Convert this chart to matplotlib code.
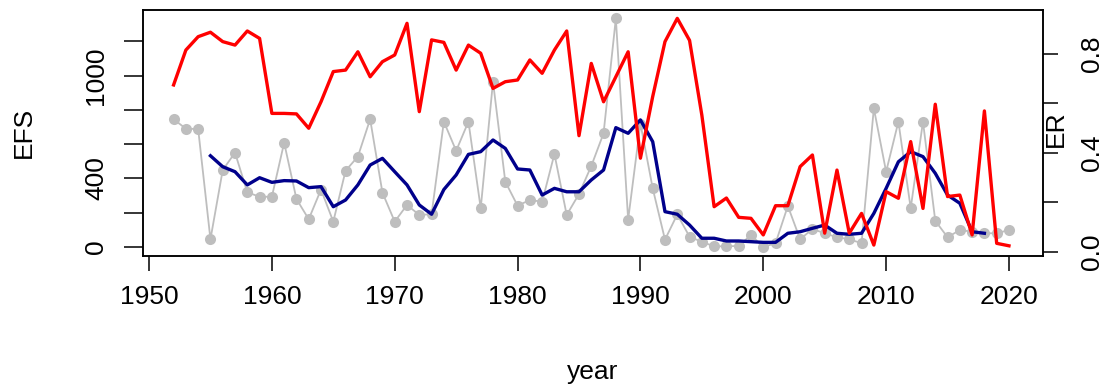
import matplotlib
matplotlib.use("Agg")
import matplotlib.pyplot as plt

# Annual series
years = list(range(1952, 2021))
efs = [745, 690, 688, 45, 449, 550, 319, 293, 293, 608,
       280, 162, 335, 148, 445, 527, 745, 317, 148, 245,
       187, 191, 731, 561, 731, 226, 964, 381, 241, 274,
       264, 542, 187, 309, 472, 663, 1333, 159, 720, 342,
       43, 190, 60, 30, 4, 4, 6, 70, 0, 22,
       239, 45, 105, 80, 57, 45, 22, 809, 439, 731,
       226, 731, 153, 57, 99, 89, 80, 80, 99]

er = [0.675, 0.816, 0.870, 0.888, 0.850, 0.836, 0.893, 0.863, 0.560, 0.560,
      0.558, 0.500, 0.607, 0.729, 0.735, 0.809, 0.708, 0.769, 0.796, 0.924,
      0.567, 0.857, 0.847, 0.735, 0.836, 0.803, 0.661, 0.688, 0.695, 0.776,
      0.722, 0.816, 0.893, 0.470, 0.762, 0.607, 0.708, 0.809, 0.379, 0.628,
      0.850, 0.944, 0.855, 0.553, 0.183, 0.218, 0.140, 0.136, 0.069, 0.187,
      0.187, 0.345, 0.392, 0.076, 0.331, 0.076, 0.156, 0.028, 0.244, 0.217,
      0.446, 0.176, 0.597, 0.224, 0.230, 0.069, 0.570, 0.035, 0.025]

# Smoothed EFS
smooth_years = list(range(1955, 2019))
efs_smooth = [532, 468, 439, 362, 404, 377, 387, 385, 346, 352,
              235, 274, 362, 478, 517, 439, 362, 245, 191, 335,
              420, 540, 556, 624, 575, 455, 449, 303, 342, 322,
              322, 391, 449, 696, 663, 741, 614, 206, 191, 128,
              51, 51, 35, 35, 31, 27, 27, 80, 89, 109,
              128, 80, 74, 80, 196, 342, 497, 556, 527, 430,
              303, 255, 89, 80]

x_ticks = [1950, 1960, 1970, 1980, 1990, 2000, 2010, 2020]
efs_ticks = [0, 200, 400, 600, 800, 1000, 1200]
efs_tick_labels = ["0", "", "400", "", "", "1000", ""]
er_ticks = [0.0, 0.2, 0.4, 0.6, 0.8]
er_tick_labels = ["0.0", "", "0.4", "", "0.8"]

plt.rcParams["font.family"] = ["Liberation Sans", "DejaVu Sans"]
FS = 19

W, H = 1106, 390
fig = plt.figure(figsize=(W / 100, H / 100), dpi=100)
ax = fig.add_axes([143 / W, 1 - 256 / H, 900 / W, 246 / H])

ax.plot(years, efs, color="#BEBEBE", lw=1.3, marker="o", markersize=8,
        markeredgewidth=0, zorder=2)
ax.plot(smooth_years, efs_smooth, color="#00008B", lw=2.4, zorder=3)

ax.set_xlim(1949.51, 2022.77)
ax.set_ylim(-52.5, 1382)
ax.set_xticks(x_ticks)
ax.set_yticks(efs_ticks)
ax.set_yticklabels(efs_tick_labels, rotation=90, va="center")
ax.tick_params(axis="x", length=11, width=1.1, pad=10, labelsize=FS)
ax.tick_params(axis="y", length=14, width=1.1, pad=11, labelsize=FS)

ax2 = ax.twinx()
ax2.plot(years, er, color="red", lw=2.4, zorder=4)
ax2.set_ylim(-0.0162, 0.9778)
ax2.set_yticks(er_ticks)
ax2.set_yticklabels(er_tick_labels, rotation=90, va="center")
ax2.tick_params(axis="y", length=11, width=1.1, pad=16, labelsize=FS)

for a in (ax, ax2):
    for s in a.spines.values():
        s.set_linewidth(1.1)

fig.text(24 / W, 1 - 132 / H, "EFS", rotation=90, ha="center", va="center", fontsize=FS)
fig.text(593 / W, 1 - 372 / H, "year", ha="center", va="center", fontsize=FS)
fig.text(1056 / W, 1 - 129 / H, "ER", rotation=90, ha="center", va="center", fontsize=FS)

fig.savefig("out.png", dpi=100)
